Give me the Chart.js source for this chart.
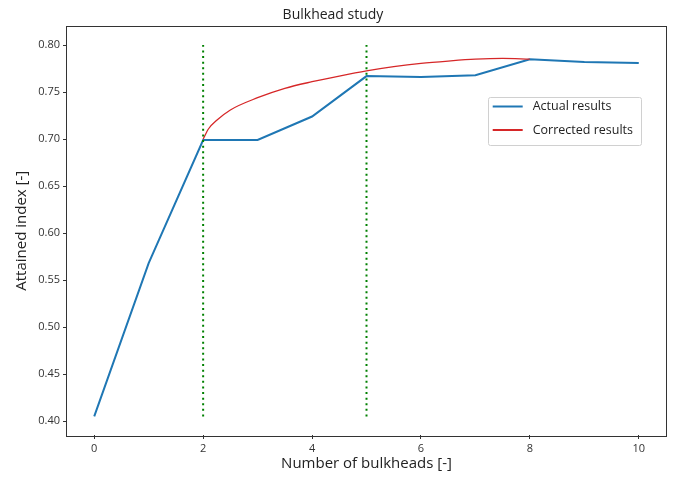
<!DOCTYPE html>
<html>
<head>
<meta charset="utf-8">
<script src="https://cdn.jsdelivr.net/npm/chart.js@4/dist/chart.umd.min.js"></script>
<style>
  html, body { margin: 0; padding: 0; background: #fff; }
  #wrap { width: 675px; height: 477px; }
</style>
</head>
<body>
<div id="wrap"><canvas id="c" width="675" height="477"></canvas></div>
<script>
// Number of bulkheads vs attained subdivision index
const bulkheads      = [0, 1, 2, 3, 4, 5, 6, 7, 8, 9, 10];
const actualIndex    = [0.405, 0.568, 0.699, 0.699, 0.724, 0.767, 0.766, 0.768, 0.785, 0.782, 0.781];

// Corrected (smoothed) results between 2 and 8 bulkheads
const correctedX     = [2, 2.1, 2.25, 2.5, 3, 3.5, 4, 4.5, 5, 5.5, 6, 6.5, 7, 7.5, 8];
const correctedIndex = [0.700, 0.711, 0.720, 0.731, 0.744, 0.754, 0.761, 0.767, 0.7725, 0.777, 0.7805, 0.783, 0.785, 0.7858, 0.785];

// Vertical reference markers
const markerX        = [2, 5];
const markerRange    = [0.405, 0.80];

const xTicks = [0, 2, 4, 6, 8, 10];
const yTicks = [0.40, 0.45, 0.50, 0.55, 0.60, 0.65, 0.70, 0.75, 0.80];

const FONT = "'Open Sans', 'DejaVu Sans', sans-serif";

const toPoints = (xs, ys) => xs.map((x, i) => ({ x: x, y: ys[i] }));

const datasets = [
  {
    label: 'Actual results',
    data: toPoints(bulkheads, actualIndex),
    borderColor: '#1f77b4',
    borderWidth: 2,
    pointRadius: 0,
    tension: 0,
    order: 3
  },
  {
    label: 'Corrected results',
    data: toPoints(correctedX, correctedIndex),
    borderColor: '#d62728',
    borderWidth: 1.3,
    pointRadius: 0,
    cubicInterpolationMode: 'monotone',
    order: 2
  }
];
markerX.forEach(x => {
  datasets.push({
    data: markerRange.map(y => ({ x: x, y: y })),
    borderColor: '#008000',
    borderWidth: 2,
    borderDash: [2, 3.6],
    pointRadius: 0,
    order: 1
  });
});

// Full frame around the plotting area
const framePlugin = {
  id: 'frame',
  afterDatasetsDraw(chart) {
    const a = chart.chartArea, ctx = chart.ctx;
    ctx.save();
    ctx.strokeStyle = '#333';
    ctx.lineWidth = 1;
    ctx.strokeRect(Math.round(a.left) - 0.5, Math.round(a.top) - 0.5,
                   Math.round(a.right - a.left) + 1, Math.round(a.bottom - a.top) + 1);
    ctx.restore();
  }
};

// Boxed legend inside the plotting area
const legendPlugin = {
  id: 'boxLegend',
  afterDraw(chart) {
    const ctx = chart.ctx, a = chart.chartArea;
    const items = chart.data.datasets.filter(d => d.label);
    ctx.save();
    ctx.font = "12.5px " + FONT;
    const handle = 30, padL = 5, gap = 10, padR = 8, rowH = 23.5, padT = 10, padB = 14;
    const textW = Math.max(...items.map(d => ctx.measureText(d.label).width));
    const w = padL + handle + gap + textW + padR;
    const h = padT + padB + rowH * (items.length - 1);
    const right = a.right - 25, top = a.top + 70;
    const left = right - w;
    ctx.fillStyle = 'rgba(255,255,255,0.9)';
    ctx.strokeStyle = '#d0d0d0';
    ctx.lineWidth = 1;
    ctx.beginPath();
    ctx.roundRect(Math.round(left) + 0.5, Math.round(top) + 0.5, Math.round(w), Math.round(h), 2);
    ctx.fill();
    ctx.stroke();
    items.forEach((d, i) => {
      const y = top + padT + i * rowH;
      ctx.strokeStyle = d.borderColor;
      ctx.lineWidth = 2;
      ctx.beginPath();
      ctx.moveTo(left + padL, y);
      ctx.lineTo(left + padL + handle, y);
      ctx.stroke();
      ctx.fillStyle = '#222';
      ctx.textBaseline = 'middle';
      ctx.fillText(d.label, left + padL + handle + gap, y);
    });
    ctx.restore();
  }
};

new Chart(document.getElementById('c'), {
  type: 'line',
  data: { datasets: datasets },
  plugins: [framePlugin, legendPlugin],
  options: {
    responsive: false,
    devicePixelRatio: 1,
    animation: false,
    layout: { padding: { top: 0, right: 9, bottom: 0, left: 0 } },
    plugins: {
      legend: { display: false },
      tooltip: { enabled: false },
      title: {
        display: true,
        text: 'Bulkhead study',
        color: '#222',
        font: { family: FONT, size: 14, weight: 'normal' },
        padding: { top: 7, bottom: 2.7 }
      }
    },
    scales: {
      x: {
        type: 'linear',
        min: -0.5,
        max: 10.5,
        afterBuildTicks: s => { s.ticks = xTicks.map(v => ({ value: v })); },
        afterFit: s => { s.height = 42; },
        border: { display: false },
        grid: { display: true, drawOnChartArea: false, drawTicks: true, tickLength: 4, color: '#333' },
        ticks: { color: '#333', font: { family: FONT, size: 11 }, padding: 3, maxRotation: 0,
                 callback: v => String(v) },
        title: { display: true, text: 'Number of bulkheads [-]', color: '#222',
                 font: { family: FONT, size: 15 }, padding: { top: 0, bottom: 4 } }
      },
      y: {
        type: 'linear',
        min: 0.38525,
        max: 0.81975,
        afterBuildTicks: s => { s.ticks = yTicks.map(v => ({ value: v })); },
        afterFit: s => { s.width = 67; },
        border: { display: false },
        grid: { display: true, drawOnChartArea: false, drawTicks: true, tickLength: 4, color: '#333' },
        ticks: { color: '#333', font: { family: FONT, size: 11 }, padding: 3,
                 callback: v => v.toFixed(2) },
        title: { display: true, text: 'Attained index [-]', color: '#222',
                 font: { family: FONT, size: 15 }, padding: { top: 13, bottom: 0 } }
      }
    }
  }
});
</script>
</body>
</html>
